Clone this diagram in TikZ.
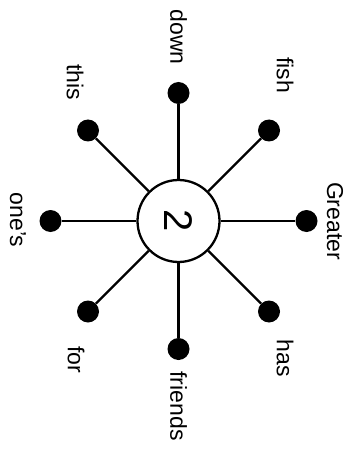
\documentclass[tikz,border=0pt]{standalone}
\usepackage{fontspec}
\setmainfont{Liberation Sans}
\begin{document}
\begin{tikzpicture}[x=1pt,y=-1pt,
  hub/.style={draw, circle, line width=2.3pt, minimum size=82pt, inner sep=0pt,
    font=\fontsize{40}{44}\selectfont, rotate=-90},
  dot/.style={circle, fill=black, minimum size=22pt, inner sep=0pt},
  spoke/.style={line width=2.2pt},
  lbl/.style={rotate=-90, inner sep=0pt, font=\fontsize{23}{27}\selectfont}]
\useasboundingbox (0,0) rectangle (349,449);
\node[hub] (c) at (178.5,221) {2};
\node[dot] (dn) at (178.5,93) {};
\node[dot] (fi) at (269,130.5) {};
\node[dot] (gr) at (306.5,221) {};
\node[dot] (ha) at (269,311.5) {};
\node[dot] (fr) at (178.5,349) {};
\node[dot] (fo) at (88,311.5) {};
\node[dot] (on) at (50.5,221) {};
\node[dot] (th) at (88,130.5) {};
\foreach \n in {dn,fi,gr,ha,fr,fo,on,th} \draw[spoke] (c) -- (\n);
\node[lbl] (ldn) at (178.5,37) {down};
\node[lbl] (lfi) at (285,75) {fish};
\node[lbl] (lgr) at (335,221) {Greater};
\node[lbl] (lha) at (285,358) {has};
\node[lbl] (lfr) at (178.5,406) {friends};
\node[lbl] (lfo) at (76,360) {for};
\node[lbl] (lon) at (18,220) {one's};
\node[lbl] (lth) at (75,82) {this};
\end{tikzpicture}
\end{document}
